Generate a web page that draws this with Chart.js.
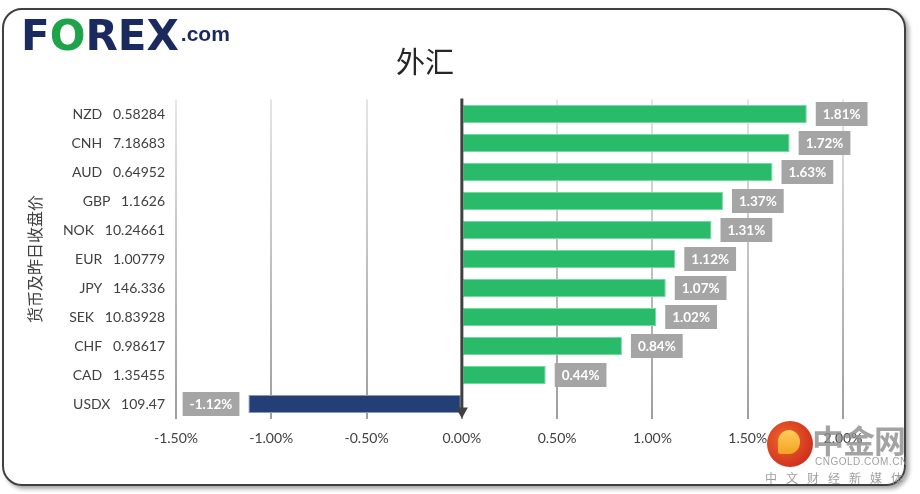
<!DOCTYPE html>
<html>
<head>
<meta charset="utf-8">
<script src="https://cdn.jsdelivr.net/npm/chart.js@4.4.1/dist/chart.umd.min.js"></script>
<style>
  html, body { margin: 0; padding: 0; background: #fff; }
  #wrap { position: relative; width: 920px; height: 494px; overflow: hidden; }
  #frame {
    position: absolute; left: 2px; top: 8px; width: 900px; height: 474px;
    border: 2.5px solid #404040; border-radius: 20px;
    box-shadow: 3px 3px 4px rgba(0,0,0,0.35);
  }
  #chart { position: absolute; left: 0; top: 0; }
  #logo {
    position: absolute; left: 21px; top: 11px; font-family: "DejaVu Sans", sans-serif;
    font-weight: bold; color: #1b2a5e; font-size: 42px; letter-spacing: 0px;
  }
  #logo .o { color: #1fa34a; }
  #logo .com { font-size: 21px; vertical-align: 9px; margin-left: 2px; font-family: "Liberation Sans", sans-serif; }
  #title {
    position: absolute; left: 0; width: 850px; top: 39px; text-align: center;
    font-family: "Noto Sans CJK SC", sans-serif; font-size: 29px; color: #262626;
  }
  #wm { position: absolute; left: 760px; top: 418px; width: 160px; height: 76px; }
  #wm .dot {
    position: absolute; left: 7px; top: 3px; width: 46px; height: 46px; border-radius: 50%;
    background: radial-gradient(circle at 40% 40%, #f06a2a, #d1321e 70%);
  }
  #wm .swirl {
    position: absolute; left: 18px; top: 12px; width: 22px; height: 24px; border-radius: 50% 50% 50% 10%;
    background: linear-gradient(#ffd45c, #f5a623); opacity: 0.95;
  }
  #wm .big {
    position: absolute; left: 52px; top: -2px; font-family: "Noto Sans CJK SC", sans-serif;
    font-weight: bold; font-size: 32px; color: rgba(140,140,140,0.8); letter-spacing: -1px;
  }
  #wm .en {
    position: absolute; left: 55px; top: 38px; font-family: "Liberation Sans", sans-serif;
    font-size: 10px; color: rgba(150,150,150,0.9); letter-spacing: 0.5px;
  }
  #wm .cn {
    position: absolute; left: 5px; top: 51px; font-family: "Noto Sans CJK SC", sans-serif;
    font-size: 12px; color: rgba(150,150,150,0.9); letter-spacing: 9px; white-space: nowrap;
  }
</style>
</head>
<body>
<div id="wrap">
  <div id="frame"></div>
  <canvas id="chart" width="920" height="494"></canvas>
  <div id="logo">F<span class="o">O</span>REX<span class="com">.com</span></div>
  <div id="title">外汇</div>
  <div id="wm">
    <div class="dot"></div><div class="swirl"></div>
    <div class="big">中金网</div>
    <div class="en">CNGOLD.COM.CN</div>
    <div class="cn">中文财经新媒体</div>
  </div>
</div>
<script>
const currencies = ['NZD', 'CNH', 'AUD', 'GBP', 'NOK', 'EUR', 'JPY', 'SEK', 'CHF', 'CAD', 'USDX'];
const closes = ['0.58284', '7.18683', '0.64952', '1.1626', '10.24661', '1.00779', '146.336', '10.83928', '0.98617', '1.35455', '109.47'];
const changes = [1.81, 1.72, 1.63, 1.37, 1.31, 1.12, 1.07, 1.02, 0.84, 0.44, -1.12];
const xTicks = [-1.5, -1.0, -0.5, 0, 0.5, 1.0, 1.5, 2.0];

const labels = currencies.map((c, i) => c + '   ' + closes[i]);

// gray boxes with the % value next to each bar
const valueBoxes = {
  id: 'valueBoxes',
  afterDatasetsDraw(chart) {
    const ctx = chart.ctx;
    const meta = chart.getDatasetMeta(0);
    ctx.save();
    ctx.font = 'bold 13.5px Lato, "Noto Sans", sans-serif';
    ctx.textBaseline = 'middle';
    meta.data.forEach((bar, i) => {
      const v = changes[i];
      const txt = v.toFixed(2) + '%';
      const w = ctx.measureText(txt).width + 14;
      const h = 24;
      const x = v >= 0 ? bar.x + 9 : bar.x - 9 - w;
      ctx.fillStyle = '#a5a5a5';
      ctx.fillRect(x, bar.y - h / 2, w, h);
      ctx.fillStyle = '#ffffff';
      ctx.textAlign = 'center';
      ctx.fillText(txt, x + w / 2, bar.y + 1);
    });
    ctx.restore();
  }
};

// dark zero axis with arrow
const zeroAxis = {
  id: 'zeroAxis',
  afterDraw(chart) {
    const ctx = chart.ctx;
    const x0 = chart.scales.x.getPixelForValue(0);
    const a = chart.chartArea;
    ctx.save();
    ctx.strokeStyle = '#404040';
    ctx.fillStyle = '#404040';
    ctx.lineWidth = 3;
    ctx.beginPath();
    ctx.moveTo(x0, a.top - 1);
    ctx.lineTo(x0, a.bottom - 8);
    ctx.stroke();
    ctx.beginPath();
    ctx.moveTo(x0 - 6, a.bottom - 11);
    ctx.lineTo(x0 + 6, a.bottom - 11);
    ctx.lineTo(x0, a.bottom);
    ctx.closePath();
    ctx.fill();
    ctx.restore();
  }
};

function gridGradient(c) {
  const area = c.chart.chartArea;
  if (!area) return 'rgba(0,0,0,0.2)';
  const g = c.chart.ctx.createLinearGradient(0, area.top, 0, area.bottom);
  g.addColorStop(0, 'rgba(0,0,0,0.10)');
  g.addColorStop(1, 'rgba(0,0,0,0.38)');
  return g;
}

new Chart(document.getElementById('chart'), {
  type: 'bar',
  data: {
    labels: labels,
    datasets: [{
      data: changes,
      backgroundColor: changes.map(v => v >= 0 ? '#29ba6a' : '#243f76'),
      borderColor: changes.map(v => v >= 0 ? '#6fdca2' : '#8798bd'),
      borderWidth: 1,
      borderSkipped: false,
      barPercentage: 0.62,
      categoryPercentage: 1.0
    }]
  },
  plugins: [valueBoxes, zeroAxis],
  options: {
    indexAxis: 'y',
    responsive: false,
    animation: false,
    layout: { padding: { left: 20, right: 77, top: 99.5, bottom: 45.5 } },
    plugins: {
      legend: { display: false },
      tooltip: { enabled: false },
      title: { display: false }
    },
    scales: {
      x: {
        min: -1.5,
        max: 2.0,
        z: 1,
        afterFit(s) { s.height = 30; },
        afterBuildTicks(s) { s.ticks = xTicks.map(v => ({ value: v })); },
        grid: { color: gridGradient, lineWidth: 2, drawTicks: false },
        border: { display: false },
        ticks: {
          padding: 12,
          color: '#404040',
          font: { family: 'Lato, "Noto Sans", sans-serif', size: 14 },
          callback: v => v.toFixed(2) + '%'
        }
      },
      y: {
        afterFit(s) { s.width = 156; },
        grid: { display: false, drawTicks: false },
        border: { display: false },
        ticks: {
          padding: 11,
          color: '#404040',
          font: { family: 'Lato, "Noto Sans", sans-serif', size: 14 }
        },
        title: {
          display: true,
          text: '货币及昨日收盘价',
          color: '#404040',
          padding: { top: 5, bottom: 0 },
          font: { family: '"Noto Sans CJK SC", sans-serif', size: 16 }
        }
      }
    }
  }
});
</script>
</body>
</html>
